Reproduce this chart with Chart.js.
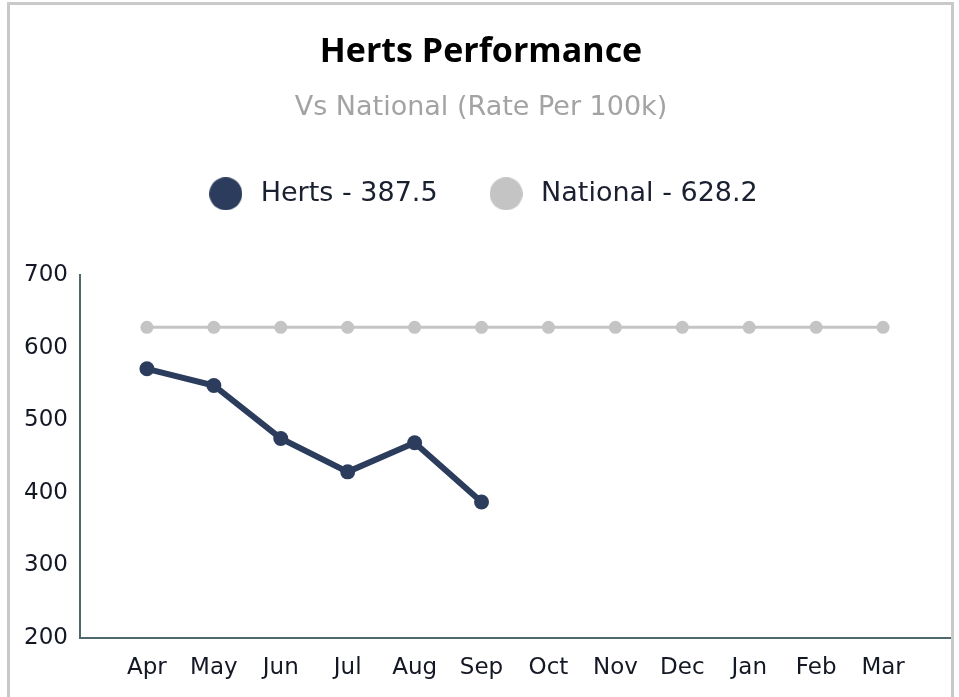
<!DOCTYPE html>
<html>
<head>
<meta charset="utf-8">
<script src="https://cdn.jsdelivr.net/npm/chart.js@4.4.0/dist/chart.umd.min.js"></script>
<style>
    html, body { margin: 0; padding: 0; background: #fff; overflow: hidden; }
    #wrap { position: relative; width: 959px; height: 697px; }
    #frame {
        position: absolute; left: 7px; top: 2px; width: 947px; height: 740px;
        border: 3px solid #c9c9c9; box-sizing: border-box;
    }
    #perfChart { position: absolute; left: 0; top: 0; }
</style>
</head>
<body>
<div id="wrap">
    <div id="frame"></div>
    <canvas id="perfChart" width="959" height="697"></canvas>
</div>
<script>
const months = ['Apr', 'May', 'Jun', 'Jul', 'Aug', 'Sep', 'Oct', 'Nov', 'Dec', 'Jan', 'Feb', 'Mar'];
const hertsValues = [571, 548, 475, 429, 469, 387.5];
const nationalValues = [628.2, 628.2, 628.2, 628.2, 628.2, 628.2, 628.2, 628.2, 628.2, 628.2, 628.2, 628.2];
const yTicks = [200, 300, 400, 500, 600, 700];

const TITLE_FONT = '"Open Sans", Lato, sans-serif';
const FONT = '"DejaVu Sans", "Open Sans", sans-serif';
const NAVY = '#2b3c5c';
const GREY = '#c4c4c4';

/* months sit at x = 1..12, the axis runs from 0 to 13 */
function toPoints(values) {
    return values.map((v, i) => ({ x: i + 1, y: v }));
}

function lastValue(values) {
    return values[values.length - 1];
}

/* round legend marker, drawn once on a small canvas */
function dot(color, size) {
    const c = document.createElement('canvas');
    c.width = size;
    c.height = size;
    const g = c.getContext('2d');
    g.fillStyle = color;
    g.beginPath();
    g.arc(size / 2, size / 2, size / 2, 0, Math.PI * 2);
    g.fill();
    return c;
}

/* empty box between the legend and the plot */
const legendGap = {
    id: 'legendGap',
    beforeInit(chart) {
        Chart.layouts.addBox(chart, {
            position: 'top',
            weight: 500,
            fullSize: true,
            options: {},
            isHorizontal: () => true,
            update(maxWidth) {
                this.width = maxWidth;
                this.height = 58;
            },
            draw() {}
        });
    }
};

const ctx = document.getElementById('perfChart').getContext('2d');

new Chart(ctx, {
    type: 'line',
    data: {
        datasets: [
            {
                label: 'Herts - ' + lastValue(hertsValues),
                data: toPoints(hertsValues),
                borderColor: NAVY,
                backgroundColor: NAVY,
                borderWidth: 6,
                pointRadius: 7.5,
                pointBackgroundColor: NAVY,
                pointBorderWidth: 0,
                tension: 0
            },
            {
                label: 'National - ' + lastValue(nationalValues),
                data: toPoints(nationalValues),
                borderColor: GREY,
                backgroundColor: GREY,
                borderWidth: 3,
                pointRadius: 6.5,
                pointBackgroundColor: GREY,
                pointBorderWidth: 0,
                tension: 0
            }
        ]
    },
    plugins: [legendGap],
    options: {
        responsive: false,
        animation: false,
        layout: { padding: { left: 12, right: 9, top: 0, bottom: 0 } },
        plugins: {
            title: {
                display: true,
                text: 'Herts Performance',
                color: '#000',
                font: { family: TITLE_FONT, size: 34, weight: 'bold' },
                padding: { top: 32, bottom: 9 }
            },
            subtitle: {
                display: true,
                text: 'Vs National (Rate Per 100k)',
                color: '#a3a3a3',
                font: { family: FONT, size: 27 },
                padding: { top: 10, bottom: 9 }
            },
            legend: {
                display: true,
                labels: {
                    usePointStyle: true,
                    boxWidth: 43,
                    pointStyleWidth: 43,
                    boxHeight: 23,
                    padding: 47,
                    color: '#1a2030',
                    font: { family: FONT, size: 27 },
                    generateLabels: chart => {
                        const items = Chart.defaults.plugins.legend.labels.generateLabels(chart);
                        items.forEach(it => {
                            it.lineWidth = 0;
                            it.pointStyle = dot(it.fillStyle, 33);
                        });
                        return items;
                    }
                }
            },
            tooltip: { enabled: false }
        },
        scales: {
            x: {
                type: 'linear',
                min: 0,
                max: 13,
                afterFit: scale => { scale.height = 59; },
                afterBuildTicks: scale => {
                    scale.ticks = months.map((m, i) => ({ value: i + 1 }));
                },
                grid: { display: false, drawTicks: false },
                border: { display: true, color: '#4e686b', width: 2 },
                ticks: {
                    autoSkip: false,
                    maxRotation: 0,
                    padding: 16,
                    color: '#141824',
                    font: { family: FONT, size: 23 },
                    callback: v => months[v - 1] || ''
                }
            },
            y: {
                min: yTicks[0],
                max: yTicks[yTicks.length - 1],
                afterFit: scale => { scale.width = 68; },
                afterBuildTicks: scale => {
                    scale.ticks = yTicks.map(v => ({ value: v }));
                },
                grid: { display: false, drawTicks: false },
                border: { display: true, color: '#4e686b', width: 2 },
                ticks: {
                    padding: 12,
                    color: '#141824',
                    font: { family: FONT, size: 23 }
                }
            }
        }
    }
});
</script>
</body>
</html>
